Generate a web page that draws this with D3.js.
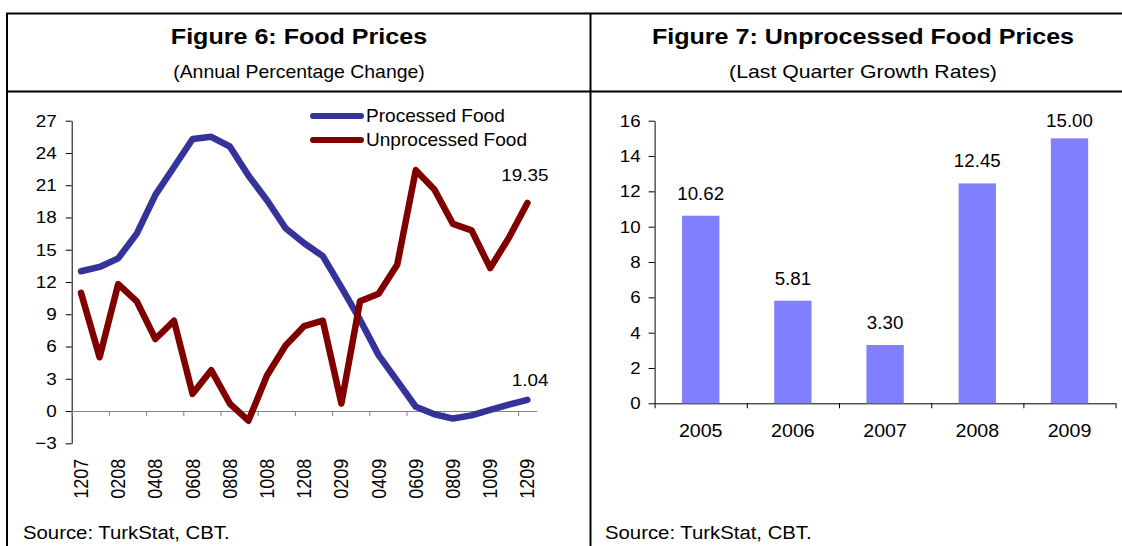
<!DOCTYPE html>
<html>
<head>
<meta charset="utf-8">
<script src="https://cdn.jsdelivr.net/npm/d3@7"></script>
<style>
  body { margin: 0; background: #fff; }
  svg { display: block; font-family: "Liberation Sans", Arial, sans-serif; }
</style>
</head>
<body>
<div class="svg-container"></div>
<script>
// Figure 6 data (monthly, MMYY)
const months = ["1207","0108","0208","0308","0408","0508","0608","0708","0808","0908","1008","1108","1208",
                "0109","0209","0309","0409","0509","0609","0709","0809","0909","1009","1109","1209"];
const processedFood = [13.0, 13.4, 14.2, 16.5, 20.1, 22.7, 25.3, 25.5, 24.6, 21.9, 19.6, 17.0, 15.6,
                       14.4, 11.5, 8.5, 5.2, 2.8, 0.4, -0.3, -0.7, -0.4, 0.1, 0.6, 1.04];
const unprocessedFood = [11.0, 5.0, 11.8, 10.2, 6.7, 8.4, 1.6, 3.8, 0.7, -0.9, 3.3, 6.1, 7.9,
                         8.4, 0.7, 10.2, 10.9, 13.6, 22.4, 20.6, 17.4, 16.8, 13.3, 16.1, 19.35];
const lineTicks = [-3, 0, 3, 6, 9, 12, 15, 18, 21, 24, 27];

// Figure 7 data
const years = ["2005", "2006", "2007", "2008", "2009"];
const growthRates = [10.62, 5.81, 3.30, 12.45, 15.00];
const barTicks = [0, 2, 4, 6, 8, 10, 12, 14, 16];

const W = 1122, H = 546;
const svg = d3.select('.svg-container').append('svg')
    .attr('width', W)
    .attr('height', H);

// the source picture has slightly wide lettering: stretch text horizontally about its anchor
function stretch(sel, k) {
    sel.each(function () {
        const t = d3.select(this);
        const x = +t.attr('x') || 0, y = +t.attr('y') || 0;
        t.attr('transform', `translate(${x},${y}) scale(${k},1) translate(${-x},${-y})`);
    });
}

// frame lines
const frame = svg.append('g').attr('stroke', '#000').attr('stroke-width', 2);
frame.append('line').attr('x1', 6).attr('x2', W).attr('y1', 13.5).attr('y2', 13.5);
frame.append('line').attr('x1', 6).attr('x2', W).attr('y1', 91.5).attr('y2', 91.5);
frame.append('line').attr('x1', 7).attr('x2', 7).attr('y1', 13).attr('y2', H);
frame.append('line').attr('x1', 590.5).attr('x2', 590.5).attr('y1', 13).attr('y2', H);

/**
 * titles
 */
function titles(cx, title, sub, subStretch) {
    svg.append('text')
        .attr('x', cx).attr('y', 44)
        .attr('text-anchor', 'middle')
        .style('font-size', '22px').style('font-weight', 'bold')
        .text(title)
        .call(stretch, 1.14);
    svg.append('text')
        .attr('x', cx).attr('y', 78)
        .attr('text-anchor', 'middle')
        .style('font-size', '18px')
        .text(sub)
        .call(stretch, subStretch);
}
titles(299, 'Figure 6: Food Prices', '(Annual Percentage Change)', 1.08);
titles(863, 'Figure 7: Unprocessed Food Prices', '(Last Quarter Growth Rates)', 1.18);

svg.append('text').attr('x', 23).attr('y', 539).style('font-size', '18px')
    .text('Source: TurkStat, CBT.').call(stretch, 1.13);
svg.append('text').attr('x', 605).attr('y', 539).style('font-size', '18px')
    .text('Source: TurkStat, CBT.').call(stretch, 1.13);

/**
 * Figure 6: line chart
 */
const left = svg.append('g');
const xScale = d3.scaleBand().domain(months).range([71.7, 536.7]);
const xPos = d => xScale(d) + xScale.bandwidth() / 2;
const yScale = d3.scaleLinear().domain([-3, 27]).range([443.3, 120.7]);

left.append('g')
    .attr('class', 'y-axis')
    .attr('transform', 'translate(71.7,0)')
    .call(d3.axisLeft(yScale).tickValues(lineTicks).tickSize(6).tickSizeOuter(0).tickPadding(9))
    .call(g => g.selectAll('text').style('font-size', '17px').attr('fill', '#000').call(stretch, 1.11))
    .call(g => g.selectAll('line').attr('stroke', '#000'))
    .call(g => g.select('.domain').attr('stroke', '#000'));

// category ticks every two months, on the zero line
const catIndex = d3.scaleLinear().domain([0, months.length]).range(xScale.range());
left.append('g')
    .attr('class', 'x-axis')
    .attr('transform', `translate(0,${yScale(0)})`)
    .call(d3.axisBottom(catIndex).tickValues(d3.range(0, months.length, 2)).tickFormat('').tickSize(5).tickSizeOuter(0))
    .call(g => g.selectAll('line').attr('stroke', '#808080'))
    .call(g => g.select('.domain').attr('stroke', '#808080'));

// rotated month labels under the plot
left.append('g')
    .attr('transform', `translate(0,${yScale(-3)})`)
    .call(d3.axisBottom(xScale).tickValues(months.filter((m, i) => i % 2 === 0)).tickSize(0))
    .call(g => g.select('.domain').remove())
    .call(g => g.selectAll('text')
        .attr('transform', 'scale(1.1,1) rotate(-90)')
        .attr('x', -15.5).attr('y', 0).attr('dy', '0.35em')
        .style('text-anchor', 'end')
        .style('font-size', '18px')
        .attr('fill', '#000'));

const line = d3.line()
    .x((d, i) => xPos(months[i]))
    .y(d => yScale(d));

const series = [
    { name: 'Processed Food', values: processedFood, color: '#333399' },
    { name: 'Unprocessed Food', values: unprocessedFood, color: '#800000' }
];

left.selectAll('.series')
    .data(series)
    .enter()
    .append('path')
    .attr('class', 'series')
    .attr('fill', 'none')
    .attr('stroke', d => d.color)
    .attr('stroke-width', 6.5)
    .attr('stroke-linejoin', 'round')
    .attr('stroke-linecap', 'round')
    .attr('d', d => line(d.values));

// end labels
const last = months.length - 1;
left.append('text')
    .attr('x', xPos(months[last]) + 21).attr('y', yScale(unprocessedFood[last]) - 22)
    .attr('text-anchor', 'end').style('font-size', '17px')
    .text(unprocessedFood[last].toFixed(2)).call(stretch, 1.11);
left.append('text')
    .attr('x', xPos(months[last]) + 21).attr('y', yScale(processedFood[last]) - 14)
    .attr('text-anchor', 'end').style('font-size', '17px')
    .text(processedFood[last].toFixed(2)).call(stretch, 1.11);

// legend
const legend = left.selectAll('.legend')
    .data(series)
    .enter()
    .append('g')
    .attr('class', 'legend')
    .attr('transform', (d, i) => `translate(313,${116 + i * 24})`);
legend.append('line')
    .attr('x1', 0).attr('x2', 48)
    .attr('stroke', d => d.color).attr('stroke-width', 6).attr('stroke-linecap', 'round');
legend.append('text')
    .attr('x', 53).attr('dy', '0.35em')
    .style('font-size', '18px')
    .text(d => d.name)
    .call(stretch, 1.06);

/**
 * Figure 7: bar chart
 */
const right = svg.append('g');
const xBar = d3.scaleBand().domain(years).range([654.6, 1115.6]).paddingInner(0.595).paddingOuter(0.2975);
const yBar = d3.scaleLinear().domain([0, 16]).range([403.3, 120.7]);

right.append('g')
    .attr('transform', 'translate(654.6,0)')
    .call(d3.axisLeft(yBar).tickValues(barTicks).tickSize(6).tickSizeOuter(0).tickPadding(8))
    .call(g => g.selectAll('text').style('font-size', '17px').attr('fill', '#000').call(stretch, 1.1))
    .call(g => g.selectAll('line').attr('stroke', '#000'))
    .call(g => g.select('.domain').attr('stroke', '#000'));

const slot = d3.scaleLinear().domain([0, years.length]).range(xBar.range());
right.append('g')
    .attr('transform', `translate(0,${yBar(0)})`)
    .call(d3.axisBottom(slot).tickValues(d3.range(0, years.length + 1)).tickFormat('').tickSize(5).tickSizeOuter(0))
    .call(g => g.selectAll('line').attr('stroke', '#000'))
    .call(g => g.select('.domain').attr('stroke', '#000'));

right.append('g')
    .attr('transform', `translate(0,${yBar(0)})`)
    .call(d3.axisBottom(xBar).tickSize(0).tickPadding(21))
    .call(g => g.select('.domain').remove())
    .call(g => g.selectAll('text').style('font-size', '18px').attr('fill', '#000').call(stretch, 1.09));

const bars = right.selectAll('.bar')
    .data(years.map((y, i) => ({ year: y, value: growthRates[i] })))
    .enter()
    .append('g')
    .attr('class', 'bar');
bars.append('rect')
    .attr('x', d => xBar(d.year))
    .attr('width', xBar.bandwidth())
    .attr('y', d => yBar(d.value))
    .attr('height', d => yBar(0) - yBar(d.value))
    .attr('fill', '#8080ff');
bars.append('text')
    .attr('x', d => xBar(d.year) + xBar.bandwidth() / 2)
    .attr('y', d => Math.max(yBar(d.value) - 16, 127))
    .attr('text-anchor', 'middle')
    .style('font-size', '18px')
    .text(d => d.value.toFixed(2))
    .call(stretch, 1.04);
</script>
</body>
</html>
